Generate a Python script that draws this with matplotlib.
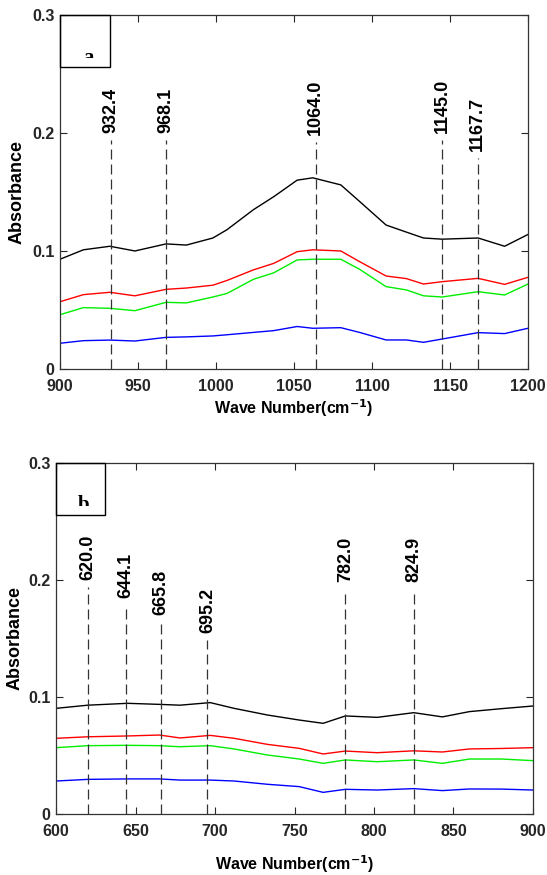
import matplotlib
matplotlib.use('Agg')
import matplotlib.pyplot as plt
from matplotlib.patches import Rectangle
from matplotlib.transforms import Bbox, TransformedBbox

plt.rcParams['font.family'] = ['Liberation Sans', 'DejaVu Sans']

## panel a, 900-1200 cm-1
wn_a = [900, 915, 932, 948, 968, 981, 998, 1007, 1024, 1037, 1052, 1062,
        1080, 1092, 1109, 1122, 1133, 1145, 1168, 1185, 1200]
black_a = [0.093, 0.101, 0.104, 0.100, 0.106, 0.105, 0.111, 0.118, 0.135, 0.146, 0.160, 0.162,
           0.156, 0.142, 0.122, 0.116, 0.111, 0.110, 0.111, 0.104, 0.114]
red_a = [0.057, 0.063, 0.065, 0.062, 0.0675, 0.0686, 0.071, 0.075, 0.084, 0.0895, 0.0994, 0.101,
         0.100, 0.091, 0.0788, 0.0766, 0.072, 0.074, 0.0768, 0.0717, 0.0777]
green_a = [0.046, 0.052, 0.0514, 0.0494, 0.0565, 0.056, 0.061, 0.064, 0.076, 0.0815, 0.0924, 0.093,
           0.093, 0.0845, 0.0698, 0.067, 0.062, 0.061, 0.0655, 0.0627, 0.072]
blue_a = [0.0218, 0.024, 0.0245, 0.0237, 0.0268, 0.0272, 0.028, 0.029, 0.031, 0.0325, 0.036, 0.0345,
          0.035, 0.031, 0.0246, 0.0246, 0.0226, 0.0254, 0.0308, 0.030, 0.0345]
peaks_a = [932.4, 968.1, 1064.0, 1145.0, 1167.7]
peak_y_a = [0.2, 0.2, 0.198, 0.2, 0.185]

## panel b, 600-900 cm-1
wn_b = [600, 620, 645, 665, 678, 697, 712, 733, 753, 768, 782, 802, 825, 843, 860, 880, 900]
black_b = [0.0903, 0.093, 0.0946, 0.0937, 0.093, 0.0952, 0.0903, 0.0846, 0.0803, 0.0775, 0.0838,
           0.0826, 0.0866, 0.083, 0.0875, 0.090, 0.0923]
red_b = [0.0647, 0.066, 0.0667, 0.0675, 0.065, 0.0672, 0.0647, 0.0595, 0.0561, 0.0513, 0.0538,
         0.0524, 0.054, 0.053, 0.0556, 0.056, 0.0567]
green_b = [0.0567, 0.0584, 0.0587, 0.0584, 0.0575, 0.0584, 0.0556, 0.0504, 0.047, 0.0433, 0.0462,
           0.0447, 0.0462, 0.0433, 0.047, 0.047, 0.0456]
blue_b = [0.0282, 0.0296, 0.030, 0.030, 0.029, 0.029, 0.0282, 0.0254, 0.0234, 0.0185, 0.0211,
          0.0205, 0.0217, 0.020, 0.0214, 0.0213, 0.0205]
peaks_b = [620.0, 644.1, 665.8, 695.2, 782.0, 824.9]
peak_y_b = [0.2, 0.185, 0.17, 0.155, 0.198, 0.198]

yticks = [0, 0.1, 0.2, 0.3]
ytick_labels = ['0', '0.1', '0.2', '0.3']

fig = plt.figure(figsize=(5.47, 8.75), dpi=100)
ax1 = fig.add_axes([0.1097, 0.5783, 0.8556, 0.4046])
ax2 = fig.add_axes([0.1024, 0.0697, 0.872, 0.4012])


def draw_panel(ax, wn, series, peaks, peak_y, xlim, xticks, letter, box_w, lx, ly):
    for vals, c in zip(series, ['black', 'red', '#00ee00', 'blue']):
        ax.plot(wn, vals, color=c, lw=1.0)
    for p, py in zip(peaks, peak_y):
        ax.plot([p, p], [0, py - 0.006], color='#333333', lw=0.9, ls=(0, (8, 4)))
        ax.text(p, py, '%.1f' % p, rotation=90, ha='center', va='bottom',
                fontsize=13, fontweight='bold')
    ax.set_xlim(xlim)
    ax.set_ylim(0, 0.3)
    ax.set_xticks(xticks)
    ax.set_yticks(yticks)
    ax.set_yticklabels(ytick_labels)
    ax.tick_params(direction='in', top=True, right=True, length=5, width=0.8,
                   labelsize=11.5, pad=4, colors='#262626')
    ax.tick_params(axis='x', pad=7)
    for lab in ax.get_xticklabels() + ax.get_yticklabels():
        lab.set_fontweight('bold')
    for s in ax.spines.values():
        s.set_color('#333333')
        s.set_linewidth(0.9)
    ax.set_ylabel('Absorbance', fontsize=13, fontweight='bold')
    ax.set_xlabel('Wave Number(cm$^{\\mathbf{-1}}$)', fontsize=11.5, fontweight='bold')
    ax.yaxis.set_label_coords(lx, 0.5)
    ax.xaxis.set_label_coords(0.5, ly)
    # corner box with the panel letter, mostly hidden
    box = Rectangle((0, 0.853), box_w, 0.147, transform=ax.transAxes, fill=False,
                    ec='black', lw=1.0, zorder=5, clip_on=False)
    ax.add_patch(box)
    t = ax.text(box_w * 0.57, 0.908, letter, transform=ax.transAxes, ha='center',
                va='top', fontsize=15, fontweight='bold', family='Liberation Serif')
    t.set_clip_on(True)
    t.set_clip_box(TransformedBbox(Bbox([[0, 0.8785], [box_w, 1]]), ax.transAxes))


draw_panel(ax1, wn_a, [black_a, red_a, green_a, blue_a], peaks_a, peak_y_a,
           (900, 1200), [900, 950, 1000, 1050, 1100, 1150, 1200], 'a', 0.107, -0.073, -0.08)
draw_panel(ax2, wn_b, [black_b, red_b, green_b, blue_b], peaks_b, peak_y_b,
           (600, 900), [600, 650, 700, 750, 800, 850, 900], 'b', 0.103, -0.069, -0.112)

fig.savefig('out.png', dpi=100)
